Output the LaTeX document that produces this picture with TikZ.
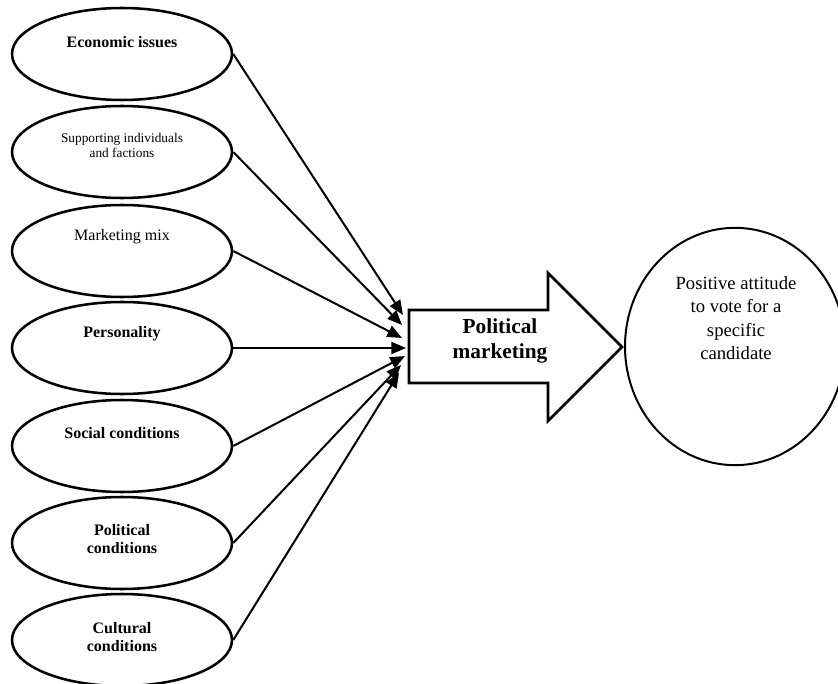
\documentclass[tikz,border=0pt]{standalone}
\usepackage{fontspec}
\setmainfont{Liberation Serif}
\usetikzlibrary{shapes.geometric,arrows.meta}
\tikzset{
  factor/.style={draw, line width=1.9pt, ellipse, minimum width=165pt, minimum height=69pt, inner sep=0pt},
  lbl/.style={align=center, inner sep=0pt},
  boldlbl/.style={lbl, font=\fontsize{12}{13.5}\selectfont\bfseries},
  conn/.style={line width=1.5pt, -{Triangle[length=11pt,width=9pt]}},
}
\begin{document}
\begin{tikzpicture}[x=0.75pt,y=-0.75pt]
\useasboundingbox (0,0) rectangle (838,684);
\fill[white] (0,0) rectangle (838,684);
% factor ellipses
\node[factor] (e1) at (122,54) {};
\node[factor] (e2) at (122,152) {};
\node[factor] (e3) at (122,251) {};
\node[factor] (e4) at (122,348) {};
\node[factor] (e5) at (122,446) {};
\node[factor] (e6) at (122,543) {};
\node[factor] (e7) at (122,640) {};
\node[boldlbl] (l1) at (122,42) {Economic issues};
\node[lbl, font=\fontsize{10}{11.3}\selectfont] (l2) at (122,145) {Supporting individuals\\and factions};
\node[lbl, font=\fontsize{12}{13.5}\selectfont] (l3) at (122,237) {Marketing mix};
\node[boldlbl] (l4) at (122,334) {Personality};
\node[boldlbl] (l5) at (122,433) {Social conditions};
\node[boldlbl] (l6) at (122,539) {Political\\conditions};
\node[boldlbl] (l7) at (122,637) {Cultural\\conditions};
% big arrow
\draw[line width=2pt, line join=miter] (409,310) -- (548,310) -- (548,273) -- (622,347) -- (548,421) -- (548,383) -- (409,383) -- cycle;
\node[lbl, font=\fontsize{16}{18.8}\selectfont\bfseries] (pm) at (500,341) {Political\\marketing};
% outcome
\node[draw, line width=1.5pt, ellipse, minimum width=165pt, minimum height=178pt, inner sep=0pt] (out) at (735,346.5) {};
\node[lbl, font=\fontsize{14}{17.6}\selectfont] (ol) at (736,318) {Positive attitude\\to vote for a\\specific\\candidate};
% arrow targets
\coordinate (t1) at (403,315);
\coordinate (t2) at (402,325);
\coordinate (t3) at (402,338);
\coordinate (t4) at (406,348);
\coordinate (t5) at (405,356);
\coordinate (t6) at (401,365);
\coordinate (t7) at (399,373);
\draw[conn] (e1.east) -- (t1);
\draw[conn] (e2.east) -- (t2);
\draw[conn] (e3.east) -- (t3);
\draw[conn] (e4.east) -- (t4);
\draw[conn] (e5.east) -- (t5);
\draw[conn] (e6.east) -- (t6);
\draw[conn] (e7.east) -- (t7);
\end{tikzpicture}
\end{document}
